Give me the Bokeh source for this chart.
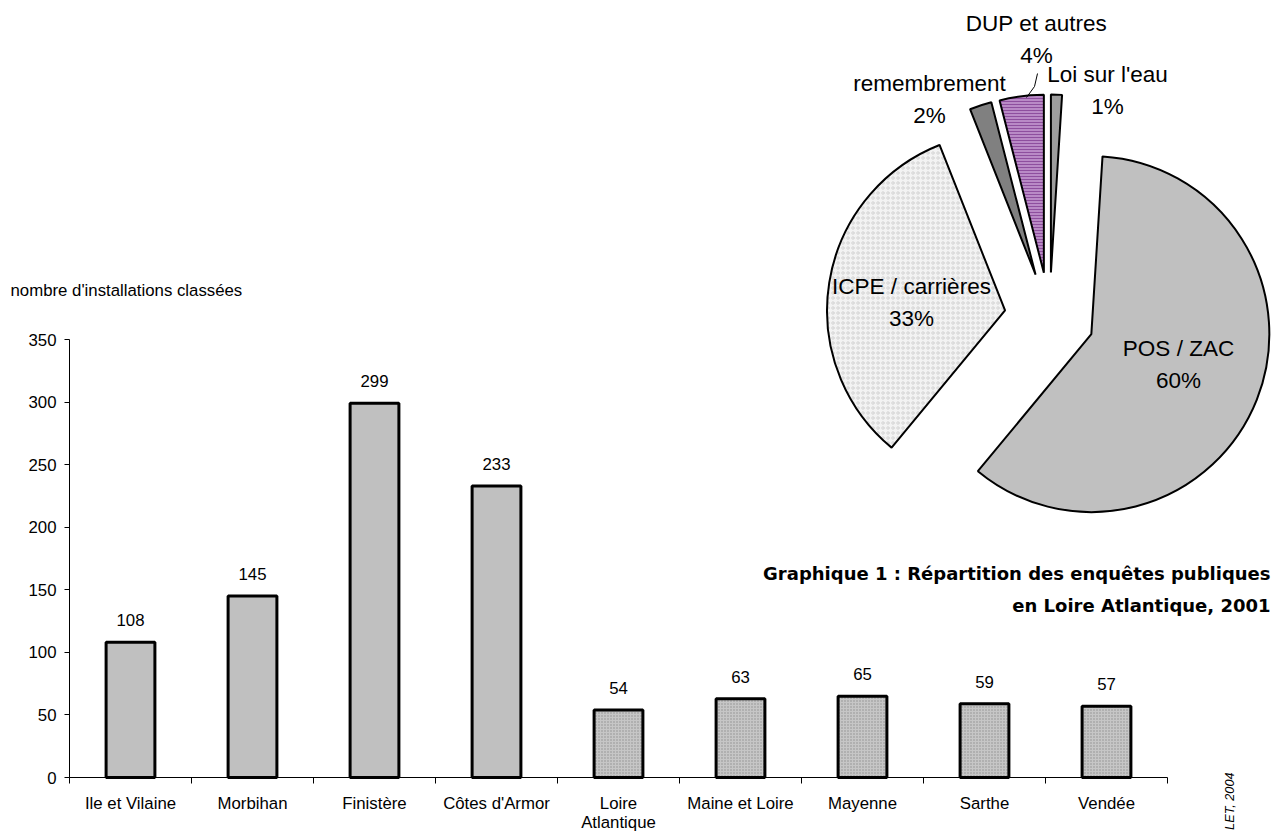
import math
from bokeh.plotting import figure
from bokeh.models import Range1d, FixedTicker, Label, ColumnDataSource
from bokeh.core.properties import value
from bokeh.embed import file_html
from bokeh.resources import INLINE

# ---------------- data ----------------
departements = ["Ile et Vilaine", "Morbihan", "Finistère", "Côtes d'Armor",
                "Loire\nAtlantique", "Maine et Loire", "Mayenne", "Sarthe", "Vendée"]
installations = [108, 145, 299, 233, 54, 63, 65, 59, 57]
regions = ["Bretagne"] * 4 + ["Pays de la Loire"] * 5
y_ticks = [0, 50, 100, 150, 200, 250, 300, 350]

pie_names = ["Loi sur l'eau", "POS / ZAC", "ICPE / carrières", "remembrement", "DUP et autres"]
pie_pct = [1, 60, 33, 2, 4]

y_title = "nombre d'installations classées"
pie_title_1 = "Graphique 1 : Répartition des enquêtes publiques"
pie_title_2 = "en Loire Atlantique, 2001"
source_txt = "LET, 2004"

# ---------------- layout (page pixels) ----------------
W, H = 1277, 832
AX_LEFT, AX_RIGHT = 69, 1167          # x axis extent (page px)
AX_BOTTOM, AX_TOP = 777, 339          # y=0 and y=350 (page px)
PX_CAT = (AX_RIGHT - AX_LEFT) / len(departements)
PX_Y = (AX_BOTTOM - AX_TOP) / 350.0

PIE_C = (1049, 317)   # unexploded pie centre (page px)
PIE_R = 178
PIE_EXPLODE = 45

FONT = "Liberation Sans"

p = figure(width=W, height=H, output_backend="svg", toolbar_location=None,
           x_range=Range1d(-AX_LEFT / PX_CAT, (W - AX_LEFT) / PX_CAT),
           y_range=Range1d(-(H - AX_BOTTOM) / PX_Y, AX_BOTTOM / PX_Y),
           min_border_left=0, min_border_right=0,
           min_border_top=0, min_border_bottom=0,
           background_fill_color="white", border_fill_color="white")
p.outline_line_color = None
p.grid.visible = False

p.extra_x_ranges = {"pie_x": Range1d(-PIE_C[0], W - PIE_C[0])}
p.extra_y_ranges = {"pie_y": Range1d(PIE_C[1] - H, PIE_C[1])}

# ---------------- axes ----------------
centers = [i + 0.5 for i in range(len(departements))]
xa = p.xaxis[0]
xa.fixed_location = 0
xa.ticker = FixedTicker(ticks=centers, minor_ticks=list(range(len(departements) + 1)))
xa.major_label_overrides = {c: d for c, d in zip(centers, departements)}
xa.bounds = (0, len(departements))
xa.major_tick_out = 0
xa.major_tick_in = 0
xa.minor_tick_out = 6
xa.minor_tick_in = 0
xa.minor_tick_line_color = "black"
xa.axis_line_color = "black"
xa.major_label_standoff = 10
xa.major_label_text_font = FONT
xa.major_label_text_font_size = "16.8px"
xa.major_label_text_line_height = 1.05
xa.major_label_text_color = "black"

ya = p.yaxis[0]
ya.fixed_location = 0
ya.ticker = FixedTicker(ticks=y_ticks)
ya.bounds = (0, 350)
ya.major_tick_out = 5
ya.major_tick_in = 0
ya.minor_tick_out = 0
ya.minor_tick_in = 0
ya.axis_line_color = "black"
ya.major_tick_line_color = "black"
ya.major_label_standoff = 8
ya.major_label_text_font = FONT
ya.major_label_text_font_size = "16.8px"
ya.major_label_text_color = "black"

# ---------------- bars ----------------
for reg, fill, hatch in [("Bretagne", "#c0c0c0", "blank"),
                         ("Pays de la Loire", "#c6c6c6", "dot")]:
    xs = [c for c, r in zip(centers, regions) if r == reg]
    ys = [v for v, r in zip(installations, regions) if r == reg]
    src = ColumnDataSource(dict(x=xs, top=ys, lab=[str(v) for v in ys]))
    p.vbar(x="x", top="top", width=0.4, source=src, fill_color=fill,
           line_color="black", line_width=3,
           hatch_pattern=hatch, hatch_color="#8f8f8f", hatch_scale=3, hatch_weight=1)
    p.text(x="x", y="top", text="lab", source=src, text_align="center",
           text_baseline="middle", y_offset=-22, text_font=value(FONT),
           text_font_size="16.8px", text_color="black")

p.add_layout(Label(x=(10 - AX_LEFT) / PX_CAT, y=(AX_BOTTOM - 290) / PX_Y, text=y_title,
                   text_align="left", text_baseline="middle", text_font=FONT,
                   text_font_size="16.8px", text_color="black"))

# ---------------- pie ----------------
pie_fill = ["#9d9d9d", "#c0c0c0", "#f3f3f3", "#808080", "#b98ac6"]
pie_hatch = ["blank", "blank", "ring", "blank", "horizontal_line"]
pie_hatch_col = ["#808080", "#808080", "#d2d2d2", "#808080", "#8e4f9e"]
pie_hatch_scale = [3, 3, 5, 3, 3]

cum = 0.0
for name, pct, fc, ht, hc, hs in zip(pie_names, pie_pct, pie_fill, pie_hatch,
                                     pie_hatch_col, pie_hatch_scale):
    t1 = cum / 100 * 360
    t2 = (cum + pct) / 100 * 360
    cum += pct
    tb = math.radians((t1 + t2) / 2)
    cx = PIE_EXPLODE * math.sin(tb)
    cy = PIE_EXPLODE * math.cos(tb)
    p.wedge(x=[cx], y=[cy], radius=PIE_R,
            start_angle=[math.radians(90 - t2)], end_angle=[math.radians(90 - t1)],
            fill_color=fc, line_color="black", line_width=2,
            hatch_pattern=ht, hatch_color=hc, hatch_scale=hs, hatch_weight=1,
            x_range_name="pie_x", y_range_name="pie_y")

# pie label positions (page px, centre of the two-line block)
pie_label_pos = [(1107, 90), (1178, 364), (911, 302), (929, 99), (1036, 39)]
lab_src = ColumnDataSource(dict(
    x=[px - PIE_C[0] for px, py in pie_label_pos],
    y=[PIE_C[1] - py for px, py in pie_label_pos],
    t=[f"{n}\n{v}%" for n, v in zip(pie_names, pie_pct)]))
p.text(x="x", y="y", text="t", source=lab_src, text_align="center",
       text_baseline="middle", text_font=value(FONT), text_font_size="22.5px",
       text_line_height=1.25, text_color="black",
       x_range_name="pie_x", y_range_name="pie_y")

# leader line for "DUP et autres"
leader = [(1026, 97), (1034, 86), (1037, 73)]
p.line(x=[a - PIE_C[0] for a, b in leader], y=[PIE_C[1] - b for a, b in leader],
       line_color="black", line_width=1, x_range_name="pie_x", y_range_name="pie_y")

# pie title
for txt, base in [(pie_title_1, 573), (pie_title_2, 605)]:
    p.add_layout(Label(x=1270 - PIE_C[0], y=PIE_C[1] - base, text=txt,
                       x_range_name="pie_x", y_range_name="pie_y",
                       text_align="right", text_baseline="alphabetic",
                       text_font="DejaVu Sans", text_font_style="bold",
                       text_font_size="18px", text_color="black"))

# source text (rotated)
p.add_layout(Label(x=1229 - PIE_C[0], y=PIE_C[1] - 772, text=source_txt, angle=math.pi / 2,
                   x_range_name="pie_x", y_range_name="pie_y",
                   text_align="right", text_baseline="middle",
                   text_font=FONT, text_font_style="italic",
                   text_font_size="12.7px", text_color="black"))

open("out.html", "w").write(file_html(p, INLINE))
